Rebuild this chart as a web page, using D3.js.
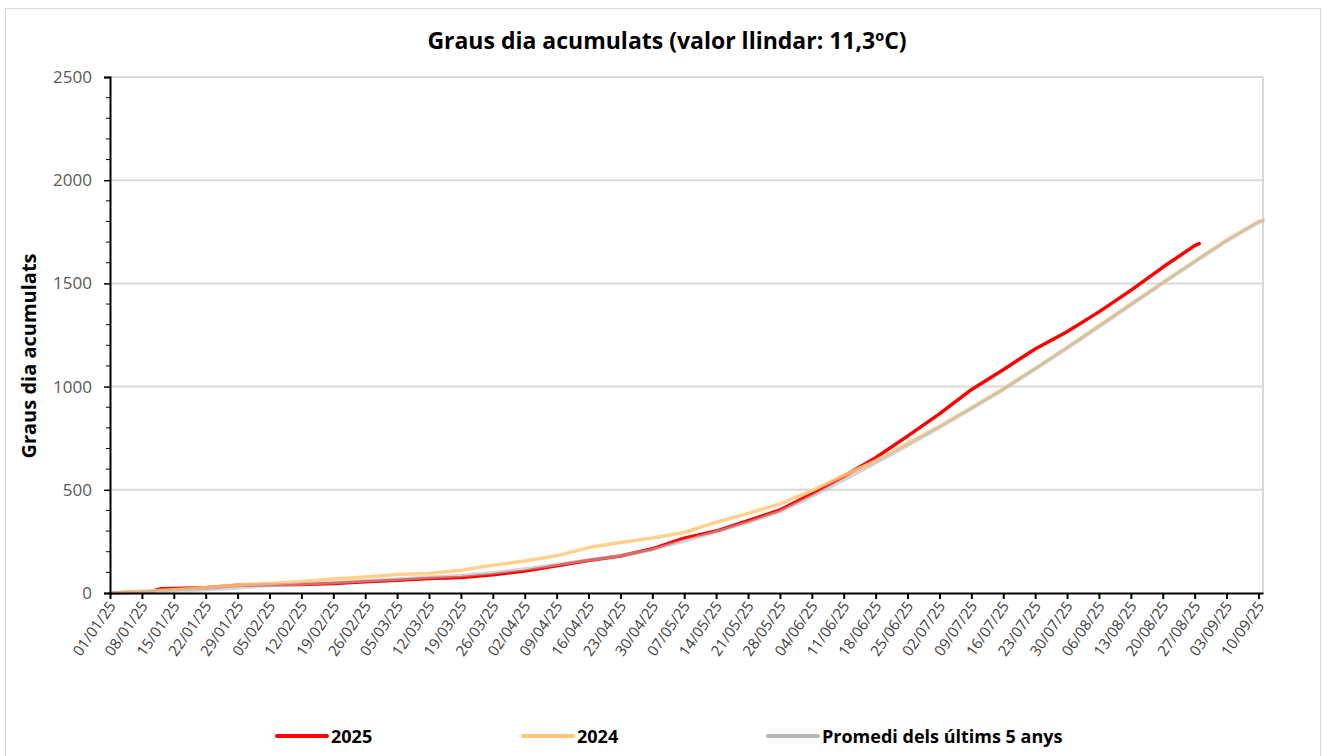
<!DOCTYPE html>
<html>
<head>
<meta charset="utf-8">
<script src="https://cdn.jsdelivr.net/npm/d3@7"></script>
<style>
  body { margin: 0; background: #fff; }
  text { font-family: "Open Sans", "DejaVu Sans", sans-serif; }
</style>
</head>
<body>
<div id="chart"></div>
<script>
var w = 1322;
var h = 756;

// weekly tick dates
var tickDates = ["01/01/25","08/01/25","15/01/25","22/01/25","29/01/25","05/02/25","12/02/25","19/02/25",
  "26/02/25","05/03/25","12/03/25","19/03/25","26/03/25","02/04/25","09/04/25","16/04/25","23/04/25",
  "30/04/25","07/05/25","14/05/25","21/05/25","28/05/25","04/06/25","11/06/25","18/06/25","25/06/25",
  "02/07/25","09/07/25","16/07/25","23/07/25","30/07/25","06/08/25","13/08/25","20/08/25","27/08/25",
  "03/09/25","10/09/25"];

var yTicks = [0, 500, 1000, 1500, 2000, 2500];

var data2025 = [
  ["01/01/25", 0], ["08/01/25", 5], ["10/01/25", 7], ["12/01/25", 20], ["15/01/25", 22], ["22/01/25", 25],
  ["29/01/25", 38], ["05/02/25", 40], ["12/02/25", 41], ["19/02/25", 46], ["26/02/25", 55],
  ["05/03/25", 62], ["12/03/25", 70], ["19/03/25", 75], ["26/03/25", 88], ["02/04/25", 106],
  ["09/04/25", 132], ["16/04/25", 157], ["23/04/25", 179], ["30/04/25", 214], ["07/05/25", 266],
  ["14/05/25", 300], ["21/05/25", 350], ["28/05/25", 402], ["04/06/25", 480], ["11/06/25", 565],
  ["18/06/25", 655], ["25/06/25", 760], ["02/07/25", 868], ["09/07/25", 985], ["16/07/25", 1082],
  ["23/07/25", 1182], ["30/07/25", 1266], ["06/08/25", 1362], ["13/08/25", 1466], ["20/08/25", 1578],
  ["27/08/25", 1683], ["28/08/25", 1693]
];

// 2024
var data2024 = [
  ["01/01/25", 0], ["08/01/25", 8], ["15/01/25", 16], ["22/01/25", 26], ["29/01/25", 39], ["05/02/25", 46],
  ["12/02/25", 56], ["19/02/25", 68], ["26/02/25", 78], ["05/03/25", 90], ["12/03/25", 94],
  ["19/03/25", 110], ["26/03/25", 135], ["02/04/25", 155], ["09/04/25", 180], ["16/04/25", 220],
  ["23/04/25", 245], ["30/04/25", 266], ["07/05/25", 293], ["14/05/25", 343], ["21/05/25", 386],
  ["28/05/25", 432], ["04/06/25", 496], ["11/06/25", 570], ["18/06/25", 640], ["25/06/25", 725],
  ["02/07/25", 808], ["09/07/25", 898], ["16/07/25", 990], ["23/07/25", 1088], ["30/07/25", 1190],
  ["06/08/25", 1295], ["13/08/25", 1400], ["20/08/25", 1505], ["27/08/25", 1608], ["03/09/25", 1710],
  ["10/09/25", 1800], ["11/09/25", 1808]
];

// Promedi dels últims 5 anys
var dataAvg = [
  ["01/01/25", 0], ["08/01/25", 4], ["15/01/25", 10], ["22/01/25", 16], ["29/01/25", 26], ["05/02/25", 36],
  ["12/02/25", 43], ["19/02/25", 51], ["26/02/25", 59], ["05/03/25", 67], ["12/03/25", 76],
  ["19/03/25", 85], ["26/03/25", 98], ["02/04/25", 116], ["09/04/25", 138], ["16/04/25", 160],
  ["23/04/25", 181], ["30/04/25", 210], ["07/05/25", 252], ["14/05/25", 296], ["21/05/25", 342],
  ["28/05/25", 394], ["04/06/25", 468], ["11/06/25", 548], ["18/06/25", 630], ["25/06/25", 715],
  ["02/07/25", 802], ["09/07/25", 893], ["16/07/25", 985], ["23/07/25", 1085], ["30/07/25", 1186],
  ["06/08/25", 1290], ["13/08/25", 1395], ["20/08/25", 1500], ["27/08/25", 1604], ["03/09/25", 1704],
  ["10/09/25", 1795], ["11/09/25", 1803]
];

var seriesNames = ["2025", "2024", "Promedi dels últims 5 anys"];
var seriesColors = ["#ff0000", "#ffc978", "#b8b8b8"];
var seriesOpacity = [1, 0.85, 0.6];

var parseDate = d3.timeParse("%d/%m/%y");

var svg = d3.select("#chart")
            .append("svg")
            .attr("width", w)
            .attr("height", h);

// outer chart border
svg.append("rect")
   .attr("x", 5.5).attr("y", 8.5)
   .attr("width", 1315).attr("height", 760)
   .style("fill", "#fff")
   .style("stroke", "#d9d9d9")
   .style("stroke-width", 1);

var plotLeft = 110, plotRight = 1263, plotTop = 77, plotBottom = 593;

var x = d3.scaleTime()
          .domain([parseDate("01/01/25"), parseDate("11/09/25")])
          .range([plotLeft, plotRight]);

var y = d3.scaleLinear()
          .domain([0, 2500])
          .range([plotBottom, plotTop]);

// gridlines
svg.append("g")
   .selectAll("line")
   .data(yTicks.slice(1))
   .enter()
   .append("line")
   .attr("x1", plotLeft).attr("x2", plotRight)
   .attr("y1", function(d) { return y(d); })
   .attr("y2", function(d) { return y(d); })
   .style("stroke", "#d9d9d9")
   .style("stroke-width", 2);

// plot area right edge
svg.append("line")
   .attr("x1", plotRight).attr("x2", plotRight)
   .attr("y1", plotTop).attr("y2", plotBottom)
   .style("stroke", "#d9d9d9")
   .style("stroke-width", 2);

// lines
var line = d3.line()
             .x(function(d) { return x(parseDate(d[0])); })
             .y(function(d) { return y(d[1]); });

[data2025, data2024, dataAvg].forEach(function(data, i) {
    svg.append("path")
       .datum(data)
       .attr("d", line)
       .style("fill", "none")
       .style("stroke", seriesColors[i])
       .style("stroke-opacity", seriesOpacity[i])
       .style("stroke-width", 3.5)
       .style("stroke-linejoin", "round")
       .style("stroke-linecap", "round");
});

// y axis
var yAxis = d3.axisLeft(y)
              .tickValues(yTicks)
              .tickFormat(d3.format("d"))
              .tickSize(6)
              .tickPadding(12);

var gy = svg.append("g")
            .attr("transform", "translate(" + plotLeft + ",0)")
            .call(yAxis);

// minor ticks
gy.selectAll(".minor")
  .data(d3.range(0, 2501, 100).filter(function(d) { return d % 500 !== 0; }))
  .enter()
  .append("line")
  .attr("class", "minor")
  .attr("x1", -4).attr("x2", 0)
  .attr("y1", function(d) { return y(d); })
  .attr("y2", function(d) { return y(d); })
  .style("stroke", "#000");

gy.select(".domain").style("stroke", "#000").style("stroke-width", 2);
gy.selectAll(".tick line").style("stroke", "#000").style("stroke-width", 1.5);
gy.selectAll(".tick text")
  .style("font-size", "17px")
  .style("fill", "#595959")
  .style("font-family", "Open Sans");

// x axis
var xAxis = d3.axisBottom(x)
              .tickValues(tickDates.map(parseDate))
              .tickFormat(d3.timeFormat("%d/%m/%y"))
              .tickSize(6)
              .tickSizeOuter(0);

var gx = svg.append("g")
            .attr("transform", "translate(0," + plotBottom + ")")
            .call(xAxis);

gx.select(".domain").style("stroke", "#000").style("stroke-width", 2);
gx.selectAll(".tick line").style("stroke", "#000").style("stroke-width", 2);
gx.selectAll(".tick text")
  .style("font-size", "15px")
  .style("fill", "#404040")
  .style("text-anchor", "end")
  .attr("dy", null)
  .attr("y", 0)
  .attr("transform", "translate(6,13) rotate(-55)");

// title
svg.append("text")
   .attr("x", 667)
   .attr("y", 49)
   .attr("text-anchor", "middle")
   .style("font-size", "23px")
   .style("font-weight", "bold")
   .text("Graus dia acumulats (valor llindar: 11,3ºC)");

// y axis title
svg.append("text")
   .attr("transform", "translate(36,356) rotate(-90)")
   .attr("text-anchor", "middle")
   .style("font-size", "20px")
   .style("font-weight", "bold")
   .text("Graus dia acumulats");

// legend
var legendX = [277, 523, 768];
var legend = svg.selectAll(".legend")
                .data(seriesNames)
                .enter()
                .append("g")
                .attr("class", "legend")
                .attr("transform", function(d, i) { return "translate(" + legendX[i] + ",736)"; });

legend.append("line")
      .attr("x1", 0).attr("x2", 50)
      .attr("y1", 0).attr("y2", 0)
      .style("stroke", function(d, i) { return seriesColors[i]; })
      .style("stroke-width", 4)
      .style("stroke-linecap", "round");

legend.append("text")
      .attr("x", 54)
      .attr("y", 7)
      .style("font-size", "18px")
      .style("font-weight", "bold")
      .text(function(d) { return d; });
</script>
</body>
</html>
